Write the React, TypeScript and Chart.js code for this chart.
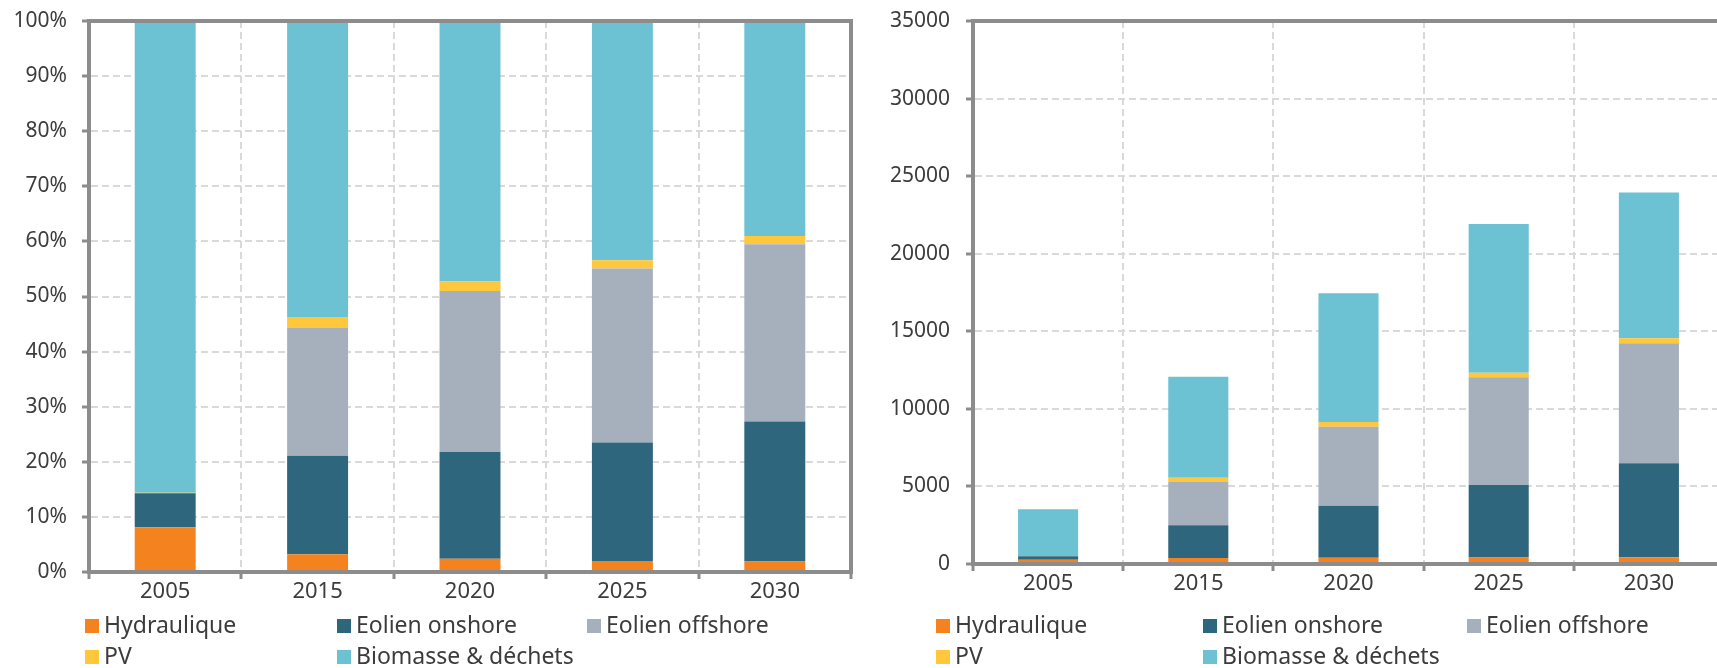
import React, { useEffect, useRef } from 'react';
import { Chart, registerables } from 'chart.js';

Chart.register(...registerables);

// ---------- DATA ----------
const years = ['2005', '2015', '2020', '2025', '2030'];
const seriesNames = ['Hydraulique', 'Eolien onshore', 'Eolien offshore', 'PV', 'Biomasse & déchets'];
const seriesColors = ['#F4831F', '#2E677D', '#A6B0BD', '#FFC73B', '#6CC2D3'];

// Left chart: shares (%)
const shareHydraulique = [8.1, 3.2, 2.4, 2.0, 1.9];
const shareOnshore = [6.2, 17.9, 19.4, 21.5, 25.4];
const shareOffshore = [0, 23.2, 29.2, 31.6, 32.2];
const sharePV = [0.1, 2.0, 1.7, 1.5, 1.5];
const shareBiomasse = [85.6, 53.7, 47.3, 43.4, 39.0];

// Right chart: absolute values
const prodHydraulique = [280, 380, 400, 420, 440];
const prodOnshore = [220, 2120, 3360, 4670, 6050];
const prodOffshore = [0, 2810, 5090, 6940, 7740];
const prodPV = [10, 250, 300, 300, 320];
const prodBiomasse = [3020, 6510, 8300, 9580, 9390];

const shareAxisMax = 100;
const shareAxisStep = 10;
const prodAxisMax = 35000;
const prodAxisStep = 5000;

// ---------- STYLE ----------
const FONT = "'Noto Sans', 'DejaVu Sans', sans-serif";
const TEXT = '#3C3C3C';
const AXIS = '#8C8C8C';
const GRID = '#D9D9D9';

type PanelProps = {
  left: number;
  width: number;
  series: number[][];
  yMax: number;
  yStep: number;
  yFmt: (v: number) => string;
  yWidth: number;
  xHeight: number;
  padRight: number;
  yPad: number;
  legendCols: number[];
};

const framePlugin = {
  id: 'frame',
  afterDatasetsDraw(chart: any) {
    const { ctx, chartArea: a } = chart;
    ctx.save();
    ctx.strokeStyle = AXIS;
    ctx.lineWidth = 4;
    ctx.strokeRect(a.left, a.top, a.right - a.left, a.bottom - a.top);
    ctx.restore();
  },
};

function makeLegendPlugin(cols: number[]) {
  return {
    id: 'gridLegend',
    afterDraw(chart: any) {
      const { ctx } = chart;
      const rows = [619, 650];
      ctx.save();
      ctx.font = `23px ${FONT}`;
      ctx.textBaseline = 'middle';
      ctx.textAlign = 'left';
      chart.data.datasets.forEach((ds: any, i: number) => {
        const col = i % 3;
        const row = Math.floor(i / 3);
        const x = cols[col];
        const y = rows[row];
        ctx.fillStyle = ds.backgroundColor;
        ctx.fillRect(x, y, 14, 14);
        ctx.fillStyle = TEXT;
        ctx.fillText(ds.label, x + 19, y + 7);
      });
      ctx.restore();
    },
  };
}

function Panel(p: PanelProps) {
  const ref = useRef<HTMLCanvasElement | null>(null);
  useEffect(() => {
    if (!ref.current) return;
    const chart = new Chart(ref.current, {
      type: 'bar',
      data: {
        labels: years,
        datasets: p.series.map((vals, i) => ({
          label: seriesNames[i],
          data: vals,
          backgroundColor: seriesColors[i],
          borderWidth: 0,
          barPercentage: 0.4,
          categoryPercentage: 1,
        })),
      },
      options: {
        responsive: false,
        animation: false,
        devicePixelRatio: 1,
        layout: { padding: { left: 0, top: 21, right: p.padRight, bottom: 0 } },
        plugins: { legend: { display: false }, tooltip: { enabled: false } },
        scales: {
          x: {
            stacked: true,
            grid: {
              color: GRID,
              lineWidth: 2,
              offset: true,
              tickColor: AXIS,
              tickWidth: 3,
              tickLength: 7,
              tickBorderDash: [],
            },
            border: { color: AXIS, width: 4, dash: [7, 4] },
            ticks: { color: TEXT, font: { family: FONT, size: 22 }, padding: 0 },
            afterFit: (s: any) => {
              s.height = p.xHeight;
              s.paddingLeft = 0;
              s.paddingRight = 0;
            },
          },
          y: {
            stacked: true,
            min: 0,
            max: p.yMax,
            grid: {
              color: GRID,
              lineWidth: 2,
              tickColor: AXIS,
              tickWidth: 3,
              tickLength: 7,
              tickBorderDash: [],
            },
            border: { color: AXIS, width: 4, dash: [7, 4] },
            ticks: {
              stepSize: p.yStep,
              color: TEXT,
              font: { family: FONT, size: 21 },
              padding: p.yPad,
              callback: (v: any) => p.yFmt(Number(v)),
            },
            afterFit: (s: any) => {
              s.width = p.yWidth;
              s.paddingTop = 0;
              s.paddingBottom = 0;
            },
          },
        },
      },
      plugins: [framePlugin, makeLegendPlugin(p.legendCols)],
    } as any);
    return () => chart.destroy();
  }, []);
  return (
    <canvas
      ref={ref}
      width={p.width}
      height={668}
      style={{ position: 'absolute', left: p.left, top: 0, width: p.width, height: 668 }}
    />
  );
}

export default function App() {
  return (
    <div
      style={{
        position: 'fixed',
        left: 0,
        top: 0,
        width: 1717,
        height: 668,
        overflow: 'hidden',
        background: '#ffffff',
      }}
    >
      <Panel
        left={0}
        width={862}
        series={[shareHydraulique, shareOnshore, shareOffshore, sharePV, shareBiomasse]}
        yMax={shareAxisMax}
        yStep={shareAxisStep}
        yFmt={(v) => `${v}%`}
        yWidth={89}
        xHeight={96}
        padRight={11}
        yPad={15}
        legendCols={[85, 337, 587]}
      />
      <Panel
        left={860}
        width={880}
        series={[prodHydraulique, prodOnshore, prodOffshore, prodPV, prodBiomasse]}
        yMax={prodAxisMax}
        yStep={prodAxisStep}
        yFmt={(v) => `${v}`}
        yWidth={113}
        xHeight={104}
        padRight={16}
        yPad={16}
        legendCols={[76, 343, 607]}
      />
    </div>
  );
}
